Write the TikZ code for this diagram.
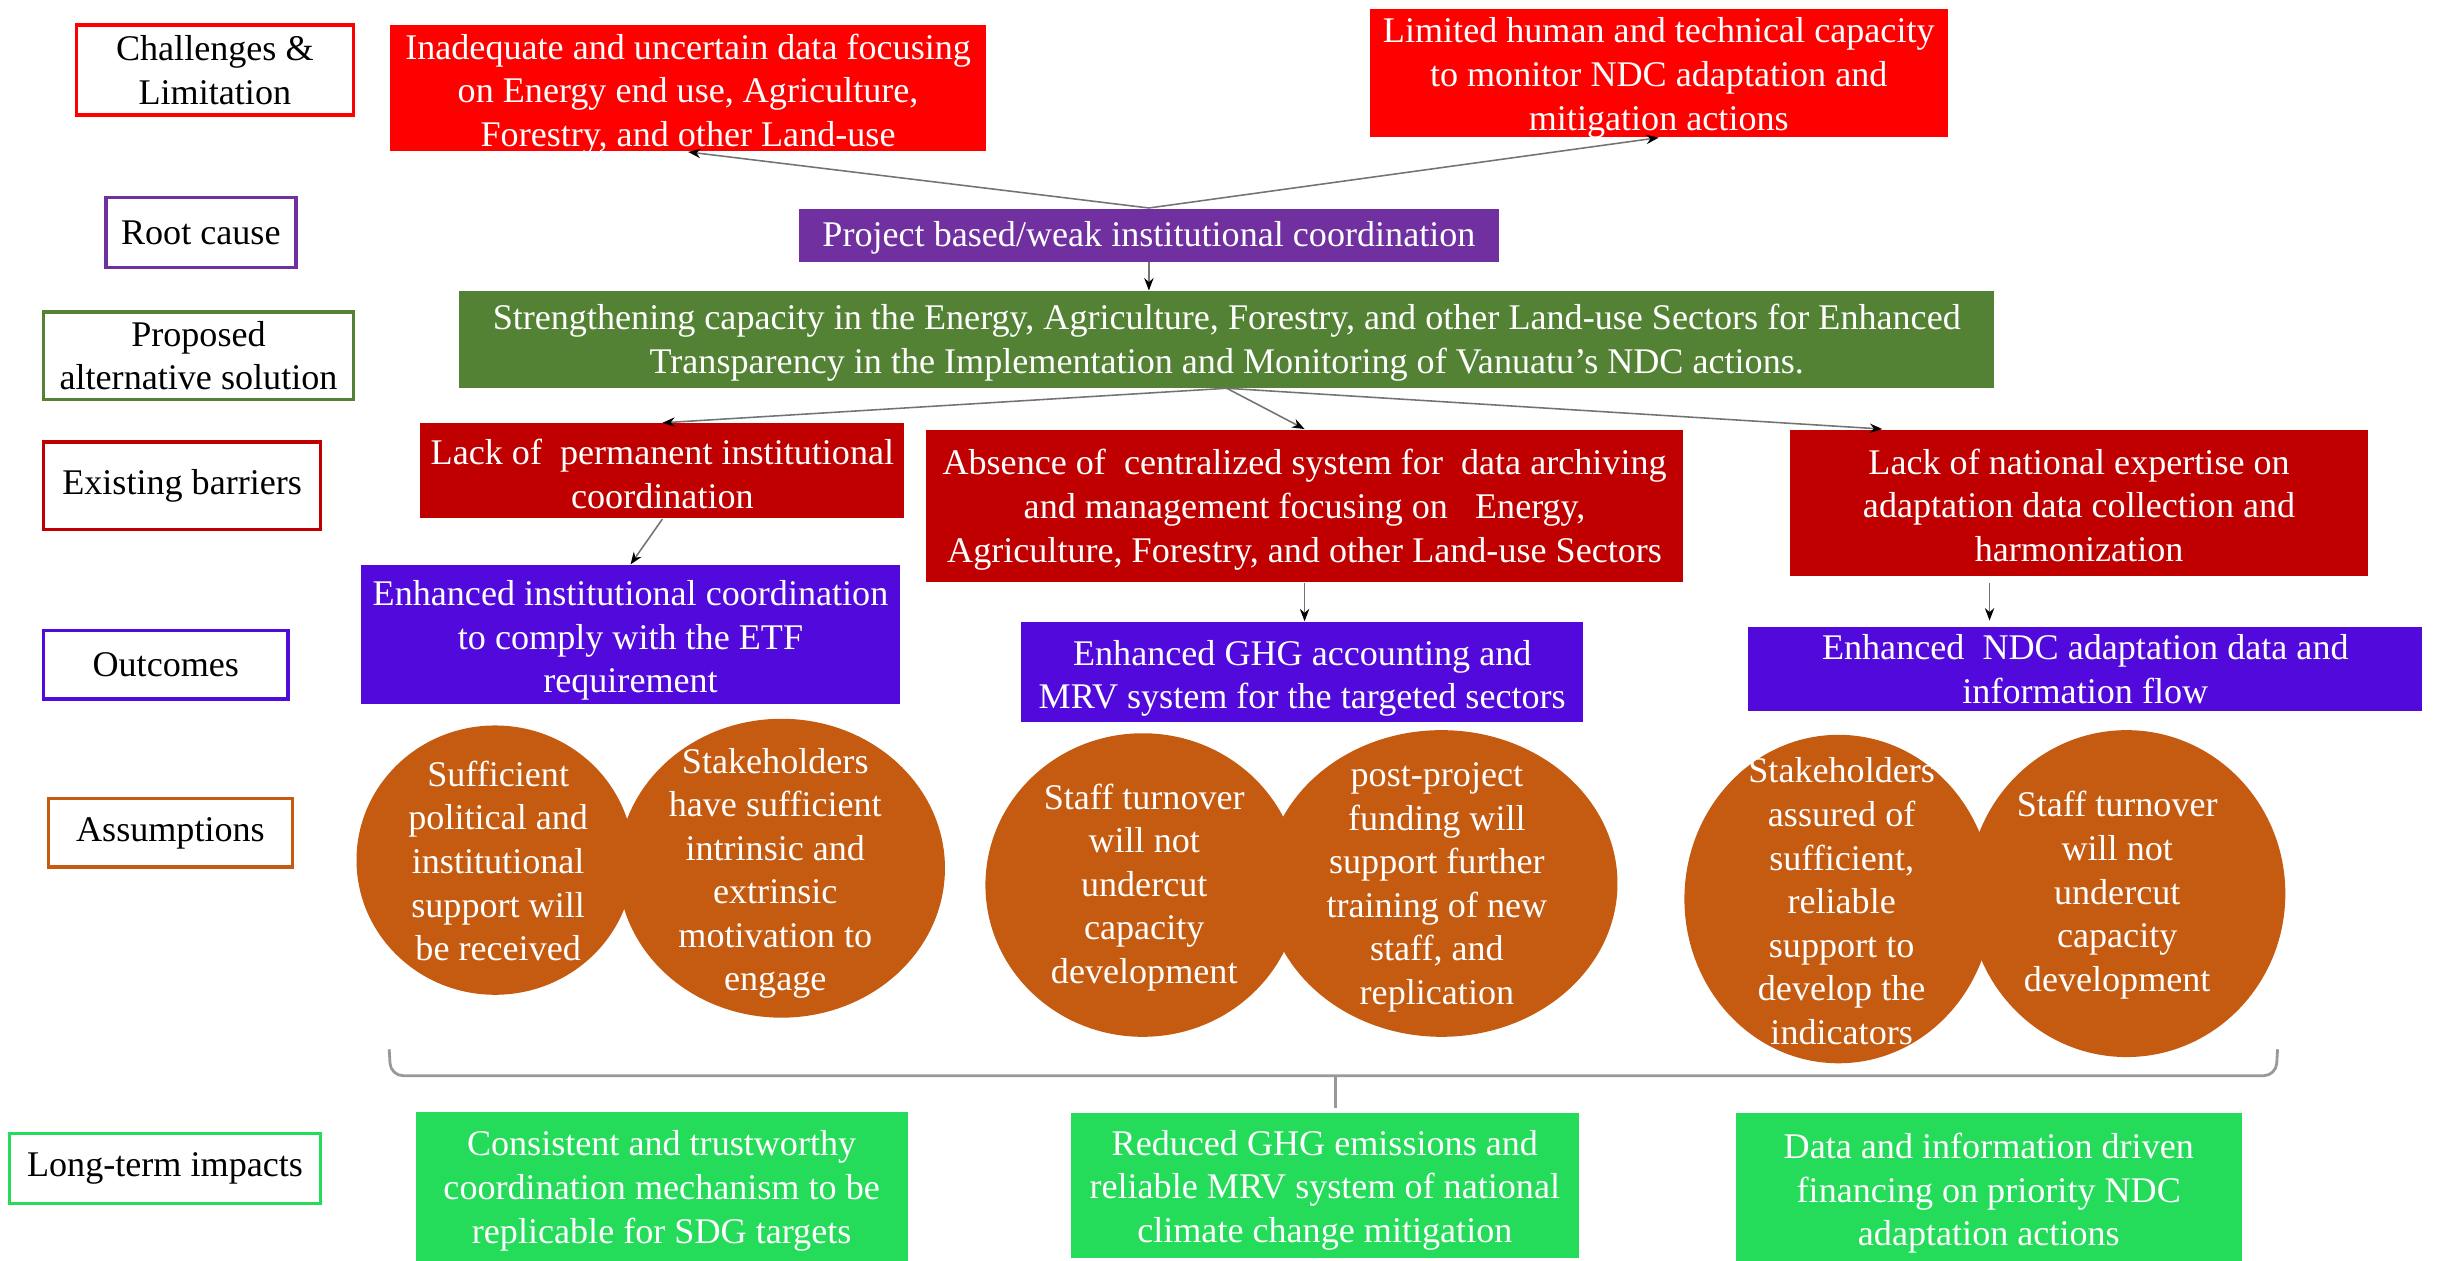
\documentclass[tikz,border=0pt]{standalone}
\usepackage{fontspec}
\setmainfont{Liberation Serif}
\usetikzlibrary{arrows.meta,shapes.geometric,calc}
\definecolor{cRed}{RGB}{255,0,0}
\definecolor{cDark}{RGB}{192,0,0}
\definecolor{cPurp}{RGB}{112,48,160}
\definecolor{cGreen}{RGB}{84,130,53}
\definecolor{cViol}{RGB}{82,10,220}
\definecolor{cOrange}{RGB}{197,90,17}
\definecolor{cLime}{RGB}{36,220,90}
\begin{document}
\begin{tikzpicture}[x=0.5pt,y=-0.5pt,
 font=\fontsize{11.6}{14}\selectfont,
 lab/.style={draw, line width=1.1pt, fill=white, text=black, align=center, inner sep=0pt},
 box/.style={inner sep=0pt},
 bt/.style={align=center, inner sep=0pt, text=white},
 ell/.style={ellipse, fill=cOrange, inner sep=0pt},
 elltext/.style={align=center, inner sep=0pt, text=white},
 arr/.style={draw=black!55, line width=0.5pt, -{Stealth[black, length=4pt, width=3pt]}},
 bracestyle/.style={draw=black!40, line width=0.9pt}]
\useasboundingbox (0,0) rectangle (1568,810);
% left labels
\node[lab, draw=cRed, minimum width=89pt, minimum height=29pt] (lchal) at (138,45) {Challenges \&\\Limitation};
\node[lab, draw=cPurp, minimum width=61pt, minimum height=22.5pt] (lroot) at (129,149.5) {Root cause};
\node[lab, draw=cGreen, minimum width=99.5pt, minimum height=28pt] (lprop) at (127.5,228.5) {Proposed\\alternative solution};
\node[lab, draw=cDark, minimum width=89pt, minimum height=28pt] (lbar) at (117,312) {Existing barriers};
\node[lab, draw=cViol, minimum width=78.5pt, minimum height=22pt] (lout) at (106.5,427) {Outcomes};
\node[lab, draw=cOrange, minimum width=78.5pt, minimum height=22pt] (lass) at (109.5,535) {Assumptions};
\node[lab, draw=cLime, minimum width=100pt, minimum height=22.5pt] (llong) at (106,750.5) {Long-term impacts};
% main boxes
\node[box, fill=cRed, minimum width=191.5pt, minimum height=40.5pt,
  label={[bt,yshift=-1.8pt]center:{Inadequate and uncertain data focusing\\on Energy end use, Agriculture,\\Forestry, and other Land-use}}] (r1) at (442,56.7) {};
\node[box, fill=cRed, minimum width=185.5pt, minimum height=41pt,
  label={[bt,yshift=-1.5pt]center:{Limited human and technical capacity\\to monitor NDC adaptation and\\mitigation actions}}] (r2) at (1065.5,47) {};
\node[box, fill=cPurp, minimum width=225pt, minimum height=17pt,
  label={[bt,yshift=-1pt]center:{Project based/weak institutional coordination}}] (p) at (738,151) {};
\node[box, fill=cGreen, minimum width=493pt, minimum height=31pt,
  label={[bt,yshift=-1pt]center:{Strengthening capacity in the Energy, Agriculture, Forestry, and other Land-use Sectors for Enhanced\\Transparency in the Implementation and Monitoring of Vanuatu’s NDC actions.}}] (g) at (788,218) {};
\node[box, fill=cDark, minimum width=155.5pt, minimum height=30.5pt,
  label={[bt,yshift=-1pt]center:{Lack of\ \ permanent institutional\\coordination}}] (b1) at (425.5,302.5) {};
\node[box, fill=cDark, minimum width=243pt, minimum height=49pt,
  label={[bt,yshift=-1.2pt]center:{Absence of\ \ centralized system for\ \ data archiving\\and management focusing on\ \ \ Energy,\\Agriculture, Forestry, and other Land-use Sectors}}] (b2) at (838,325) {};
\node[box, fill=cDark, minimum width=185.5pt, minimum height=47pt,
  label={[bt,yshift=-0.8pt]center:{Lack of national expertise on\\adaptation data collection and\\harmonization}}] (b3) at (1335.5,323) {};
\node[box, fill=cViol, minimum width=173pt, minimum height=44.5pt,
  label={[bt,yshift=-2pt]center:{Enhanced institutional coordination\\to comply with the ETF\\requirement}}] (o1) at (405,407.5) {};
\node[box, fill=cViol, minimum width=180.5pt, minimum height=32.25pt,
  label={[bt,yshift=-2pt]center:{Enhanced GHG accounting and\\MRV system for the targeted sectors}}] (o2) at (836.5,431.75) {};
\node[box, fill=cViol, minimum width=216.5pt, minimum height=27pt,
  label={[bt]center:{Enhanced\ \ NDC adaptation data and\\information flow}}] (o3) at (1339.5,430) {};
% ellipses
\node[ell, minimum width=89pt, minimum height=86.5pt] (e1) at (318,552.5) {};
\node[ell, minimum width=105pt, minimum height=96pt] (e2) at (502,557.7) {};
\node[ell, minimum width=101pt, minimum height=97.5pt] (e3) at (734,568.5) {};
\node[ell, minimum width=113pt, minimum height=98.5pt] (e4) at (926,567.5) {};
\node[ell, minimum width=99pt, minimum height=105.5pt] (e5) at (1181,577.5) {};
\node[ell, minimum width=102pt, minimum height=105pt] (e6) at (1366,574) {};
\node[elltext] (e1t) at (320,553) {Sufficient\\political and\\institutional\\support will\\be received};
\node[elltext] (e2t) at (498,561) {Stakeholders\\have sufficient\\intrinsic and\\extrinsic\\motivation to\\engage};
\node[elltext] (e3t) at (735,570) {Staff turnover\\will not\\undercut\\capacity\\development};
\node[elltext] (e4t) at (923,570) {post-project\\funding will\\support further\\training of new\\staff, and\\replication};
\node[elltext] (e5t) at (1183,579) {Stakeholders\\assured of\\sufficient,\\reliable\\support to\\develop the\\indicators};
\node[elltext] (e6t) at (1360,575) {Staff turnover\\will not\\undercut\\capacity\\development};
% long-term impacts
\node[box, fill=cLime, minimum width=158pt, minimum height=49pt,
  label={[bt,yshift=-1pt]center:{Consistent and trustworthy\\coordination mechanism to be\\replicable for SDG targets}}] (t1) at (425,763) {};
\node[box, fill=cLime, minimum width=163pt, minimum height=46.5pt,
  label={[bt,yshift=-1.5pt]center:{Reduced GHG emissions and\\reliable MRV system of national\\climate change mitigation}}] (t2) at (851,761.5) {};
\node[box, fill=cLime, minimum width=162.5pt, minimum height=48.5pt,
  label={[bt,yshift=-1.5pt]center:{Data and information driven\\financing on priority NDC\\adaptation actions}}] (t3) at (1277.5,763.5) {};
% brace
\draw[bracestyle, rounded corners=4pt] (250,674) -- (251,691) -- (858,691) -- (1462,691) -- (1463,674);
\draw[bracestyle] (858,691) -- (858,712);
% arrows
\draw[arr] (p.north) -- (r1.south);
\draw[arr] (p.north) -- (r2.south);
\draw[arr] (p.south) -- (p.south |- g.north);
\draw[arr] (g.south) -- (b1.north);
\draw[arr] (g.south) -- (b2.north);
\draw[arr] (g.south) -- ($(b3.north west)!0.16!(b3.north east)$);
\draw[arr] (b1.south) -- (o1.north);
\draw[arr] (b2.south) -- (b2.south |- o2.north);
\coordinate (b3x) at (1278,0);
\draw[arr, shorten <=2pt, shorten >=2pt] (b3.south -| b3x) -- (o3.north -| b3x);
\end{tikzpicture}
\end{document}
